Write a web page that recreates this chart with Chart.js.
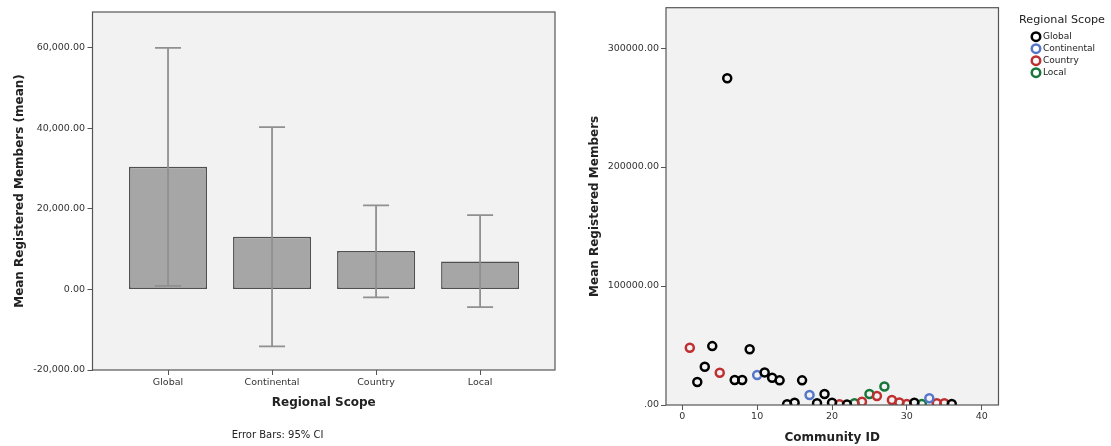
<!DOCTYPE html>
<html>
<head>
<meta charset="utf-8">
<script src="https://cdn.jsdelivr.net/npm/chart.js@4.4.1/dist/chart.umd.min.js"></script>
<style>
  body { margin: 0; background: #fff; width: 1111px; height: 446px; overflow: hidden; }
  #barChart { position: absolute; left: 0; top: 0; }
  #scatterChart { position: absolute; left: 560px; top: 0; }
</style>
</head>
<body>
<canvas id="barChart" width="560" height="446"></canvas>
<canvas id="scatterChart" width="551" height="446"></canvas>
<script>
// Left chart: mean members per regional scope, with 95% CI
const scopes = ['Global', 'Continental', 'Country', 'Local'];
const meanMembers = [30460, 13080, 9520, 6950];
const ciLow = [900, -14150, -1990, -4390];
const ciHigh = [60000, 40300, 20860, 18460];
const barYTicks = [-20000, 0, 20000, 40000, 60000];

// Right chart: mean members per community, by scope
const globalIds = [2, 3, 4, 6, 7, 8, 9, 11, 12, 13, 14, 15, 16, 18, 19, 20, 22, 31, 36];
const globalMembers = [19300, 32200, 49500, 274600, 21000, 21000, 46800, 27400, 22900, 20700, 600, 1900, 20700, 1400, 9200, 1900, 500, 1900, 800];
const continentalIds = [10, 17, 33];
const continentalMembers = [25200, 8400, 5600];
const countryIds = [1, 5, 21, 24, 26, 28, 29, 30, 34, 35];
const countryMembers = [48100, 27100, 600, 2800, 7500, 4200, 2200, 800, 1400, 1400];
const localIds = [23, 25, 27, 32];
const localMembers = [1400, 9200, 15600, 800];
const scatterXTicks = [0, 10, 20, 30, 40];
const scatterYTicks = [0, 100000, 200000, 300000];

Chart.defaults.font.family = '"DejaVu Sans", sans-serif';
Chart.defaults.color = '#333';

// grey plot background + dark frame
const framePlugin = {
    id: 'frame',
    beforeDraw(chart) {
        const a = chart.chartArea;
        chart.ctx.save();
        chart.ctx.fillStyle = '#f2f2f2';
        chart.ctx.fillRect(a.left, a.top, a.right - a.left, a.bottom - a.top);
        chart.ctx.restore();
    },
    afterDraw(chart) {
        const a = chart.chartArea;
        chart.ctx.save();
        chart.ctx.strokeStyle = '#555';
        chart.ctx.lineWidth = 1.2;
        chart.ctx.strokeRect(a.left, a.top, a.right - a.left, a.bottom - a.top);
        chart.ctx.restore();
    }
};

// CI whiskers drawn through the scales
const errorBarPlugin = {
    id: 'errorBars',
    afterDatasetsDraw(chart) {
        const { ctx, scales: { x, y } } = chart;
        ctx.save();
        ctx.strokeStyle = '#909090';
        ctx.lineWidth = 1.8;
        scopes.forEach((s, i) => {
            const px = x.getPixelForValue(i);
            const top = y.getPixelForValue(ciHigh[i]);
            const bottom = y.getPixelForValue(ciLow[i]);
            ctx.beginPath();
            ctx.moveTo(px, top); ctx.lineTo(px, bottom);
            ctx.moveTo(px - 13, top); ctx.lineTo(px + 13, top);
            ctx.moveTo(px - 13, bottom); ctx.lineTo(px + 13, bottom);
            ctx.stroke();
        });
        ctx.restore();
    }
};

// legend title sits left of the legend items, so don't clip it to the legend box
const legendNoClip = {
    id: 'legendNoClip',
    afterInit(chart) {
        if (chart.legend) {
            chart.legend.draw = function () {
                if (this.options.display) this._draw();
            };
        }
    }
};

const tickGrid = { drawOnChartArea: false, drawTicks: true, tickLength: 5, color: '#555', offset: false };
const axisTitleFont = { size: 12, weight: 'bold' };

new Chart(document.getElementById('barChart'), {
    type: 'bar',
    data: {
        datasets: [{
            label: 'Mean Registered Members',
            data: meanMembers.map((v, i) => ({ x: i, y: v })),
            backgroundColor: '#a6a6a6',
            borderColor: '#505050',
            borderWidth: 1.5,
            borderSkipped: false,
            barPercentage: 0.75,
            categoryPercentage: 1.0
        }]
    },
    options: {
        responsive: false,
        animation: false,
        layout: { padding: { left: 0, right: 5, top: 12, bottom: 0 } },
        plugins: {
            legend: { display: false },
            tooltip: { enabled: false },
            subtitle: {
                display: true,
                text: 'Error Bars: 95% CI',
                position: 'bottom',
                color: '#222',
                font: { size: 10, weight: 'normal' },
                padding: { top: 0, bottom: 5 }
            }
        },
        scales: {
            x: {
                type: 'linear',
                offset: false,
                min: -0.726,
                max: 3.72,
                afterBuildTicks: s => { s.ticks = scopes.map((c, i) => ({ value: i })); },
                afterFit: s => { s.height = 59; },
                ticks: {
                    font: { size: 9.5 },
                    padding: 2,
                    callback: v => scopes[v]
                },
                grid: tickGrid,
                border: { display: false },
                title: {
                    display: true,
                    text: 'Regional Scope',
                    color: '#222',
                    font: axisTitleFont,
                    padding: { top: 0, bottom: 18.5 }
                }
            },
            y: {
                min: -20000,
                max: 68900,
                afterBuildTicks: s => { s.ticks = barYTicks.map(v => ({ value: v })); },
                afterFit: s => { s.width = 92.5; },
                ticks: {
                    font: { size: 9.5 },
                    padding: 2.5,
                    callback: v => v.toLocaleString('en-US', { minimumFractionDigits: 2, maximumFractionDigits: 2 })
                },
                grid: tickGrid,
                border: { display: false },
                title: {
                    display: true,
                    text: 'Mean Registered Members (mean)',
                    color: '#222',
                    font: axisTitleFont,
                    padding: { top: 12.3, bottom: 0 }
                }
            }
        }
    },
    plugins: [framePlugin, errorBarPlugin]
});

function scopeSet(label, ids, values, color) {
    return {
        label: label,
        data: ids.map((id, i) => ({ x: id, y: values[i] })),
        borderColor: color,
        backgroundColor: 'rgba(0,0,0,0)',
        borderWidth: 2.5,
        pointRadius: 4,
        pointStyle: 'circle',
        clip: 0
    };
}

new Chart(document.getElementById('scatterChart'), {
    type: 'scatter',
    data: {
        datasets: [
            scopeSet('Global', globalIds, globalMembers, '#000000'),
            scopeSet('Continental', continentalIds, continentalMembers, '#5677c9'),
            scopeSet('Country', countryIds, countryMembers, '#bf2f2f'),
            scopeSet('Local', localIds, localMembers, '#17773a')
        ]
    },
    options: {
        responsive: false,
        animation: false,
        layout: { padding: { left: 0, right: 6, top: 7, bottom: 0 } },
        plugins: {
            tooltip: { enabled: false },
            legend: {
                position: 'right',
                align: 'start',
                title: {
                    display: true,
                    text: 'Regional Scope',
                    position: 'end',
                    color: '#222',
                    font: { size: 11.2 },
                    padding: { top: 7.5, bottom: 1.3 }
                },
                labels: {
                    usePointStyle: true,
                    boxWidth: 5,
                    boxHeight: 6,
                    padding: 3,
                    color: '#222',
                    font: { size: 9 }
                }
            }
        },
        scales: {
            x: {
                type: 'linear',
                min: -2.18,
                max: 42.24,
                afterBuildTicks: s => { s.ticks = scatterXTicks.map(v => ({ value: v })); },
                afterFit: s => { s.height = 41; },
                ticks: { font: { size: 9.5 }, padding: 1.3 },
                grid: tickGrid,
                border: { display: false },
                title: {
                    display: true,
                    text: 'Community ID',
                    color: '#222',
                    font: axisTitleFont,
                    padding: { top: 0, bottom: 1.1 }
                }
            },
            y: {
                type: 'linear',
                min: 0,
                max: 333900,
                afterBuildTicks: s => { s.ticks = scatterYTicks.map(v => ({ value: v })); },
                afterFit: s => { s.width = 106; },
                ticks: {
                    font: { size: 9.5 },
                    padding: 2,
                    callback: v => v === 0 ? '.00' : v.toFixed(2)
                },
                grid: tickGrid,
                border: { display: false },
                title: {
                    display: true,
                    text: 'Mean Registered Members',
                    color: '#222',
                    font: axisTitleFont,
                    padding: { top: 28.1, bottom: 0 }
                }
            },
            // empty spacer between plot and legend
            gap: {
                type: 'linear',
                axis: 'y',
                position: 'right',
                display: true,
                afterFit: s => { s.width = 32; },
                ticks: { display: false },
                grid: { display: false },
                border: { display: false }
            }
        }
    },
    plugins: [framePlugin, legendNoClip]
});
</script>
</body>
</html>
